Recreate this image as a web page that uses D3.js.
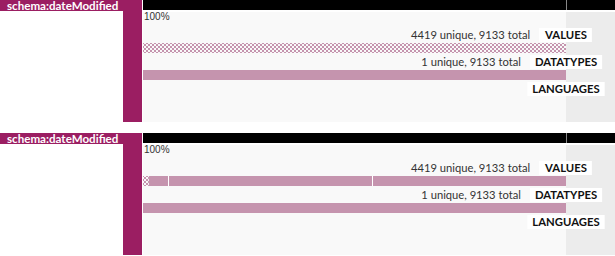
<!DOCTYPE html>
<html><head><meta charset="utf-8">
<script src="https://cdn.jsdelivr.net/npm/d3@7"></script>
<style>
html,body{margin:0;padding:0;background:#fff;}
svg{display:block;}
</style></head>
<body>
<svg id="chart" width="615" height="256"></svg>
<script>
// ---- data ----
const properties = ["schema:dateModified", "schema:dateModified"];
const totalCounts = [9133, 9133];
const uniqueValueCounts = [4419, 4419];
const uniqueDatatypeCounts = [1, 1];
const valueTailCounts = [9133, 128];           // many tiny values (checkered)
const valueTopCounts = [[], [432, 4405, 4168]]; // larger value groups
const datatypeCounts = [[9133], [9133]];
const rowLabels = ["VALUES", "DATATYPES", "LANGUAGES"];
const tickLabels = ["100%"];

// ---- layout ----
const W = 615, panelH = 122, panelGap = 133;
const plotX0 = 143, plotX1 = 566;
const purple = "#9b1e62", pink = "#c594ae";

const svg = d3.select("#chart");
const defs = svg.append("defs");
const pat = defs.append("pattern").attr("id", "checker")
  .attr("patternUnits", "userSpaceOnUse").attr("width", 4).attr("height", 4);
pat.append("rect").attr("width", 4).attr("height", 4).attr("fill", "#f9f9f9");
pat.append("rect").attr("width", 2).attr("height", 2).attr("fill", pink);
pat.append("rect").attr("x", 2).attr("y", 2).attr("width", 2).attr("height", 2).attr("fill", pink);

properties.forEach((prop, i) => {
  const g = svg.append("g").attr("transform", `translate(0,${i * panelGap})`);
  const x = d3.scaleLinear().domain([0, totalCounts[i]]).range([plotX0, plotX1]);

  // backgrounds
  g.append("rect").attr("x", plotX0).attr("y", 12).attr("width", plotX1 - plotX0).attr("height", panelH - 12).attr("fill", "#f9f9f9");
  g.append("rect").attr("x", plotX1).attr("y", 12).attr("width", W - plotX1).attr("height", panelH - 12).attr("fill", "#ececec");
  // black axis band
  g.append("rect").attr("x", plotX0).attr("y", 0).attr("width", W - plotX0).attr("height", 10).attr("fill", "#000");
  const axis = d3.axisTop(x).tickValues([totalCounts[i]]).tickSize(10).tickFormat(() => "");
  const ag = g.append("g").attr("transform", "translate(0,10)").call(axis);
  ag.select(".domain").remove();
  ag.selectAll(".tick line").attr("stroke", "#888");
  g.append("text").attr("x", plotX0 + 1).attr("y", 20)
    .attr("font-family", "Liberation Sans, Arial, sans-serif").attr("font-size", 10).attr("fill", "#333")
    .text(tickLabels[0]);

  // purple header + strip
  g.append("rect").attr("x", 0).attr("y", 0).attr("width", 142).attr("height", 11).attr("fill", purple);
  g.append("rect").attr("x", 123).attr("y", 0).attr("width", 19).attr("height", panelH).attr("fill", purple);
  g.append("text").attr("x", 7).attr("y", 9.5)
    .attr("font-family", "Lato, sans-serif").attr("font-weight", "bold").attr("font-size", 11.6).attr("fill", "#fff")
    .text(prop);

  // row labels
  const rowY = [28, 55, 82];
  const statTexts = [
    `${uniqueValueCounts[i]} unique, ${totalCounts[i]} total`,
    `${uniqueDatatypeCounts[i]} unique, ${totalCounts[i]} total`,
    null
  ];
  rowLabels.forEach((lab, r) => {
    const t = g.append("text").attr("x", plotX1).attr("y", rowY[r] + 11)
      .attr("text-anchor", "middle")
      .attr("font-family", "Lato, sans-serif").attr("font-weight", "bold").attr("font-size", 11.3).attr("fill", "#111")
      .text(lab);
    const bb = t.node().getBBox();
    g.insert("rect", () => t.node()).attr("x", bb.x - 5).attr("y", rowY[r]).attr("width", bb.width + 10).attr("height", 14).attr("fill", "#fff");
    if (statTexts[r]) {
      g.append("text").attr("x", bb.x - 5 - 9).attr("y", rowY[r] + 10.5)
        .attr("text-anchor", "end")
        .attr("font-family", "Lato, sans-serif").attr("font-size", 11.2).attr("fill", "#333")
        .text(statTexts[r]);
    }
  });

  // values bar
  const vy = 43, bh = 10;
  g.append("rect").attr("x", x(0)).attr("y", vy).attr("width", x(valueTailCounts[i]) - x(0)).attr("height", bh).attr("fill", "url(#checker)");
  let acc = valueTailCounts[i];
  const segs = valueTopCounts[i].map(c => { const s = {a: acc, b: acc + c}; acc += c; return s; });
  g.selectAll(".vseg").data(segs).enter().append("rect").attr("class", "vseg")
    .attr("x", d => x(d.a)).attr("y", vy).attr("width", d => x(d.b) - x(d.a)).attr("height", bh).attr("fill", pink);
  g.selectAll(".vsep").data(segs.slice(1)).enter().append("rect").attr("class", "vsep")
    .attr("x", d => Math.round(x(d.a)) - 1).attr("y", vy).attr("width", 1).attr("height", bh).attr("fill", "#fff");

  // datatypes bar
  const dy = 70;
  let acc2 = 0;
  const dsegs = datatypeCounts[i].map(c => { const s = {a: acc2, b: acc2 + c}; acc2 += c; return s; });
  g.selectAll(".dseg").data(dsegs).enter().append("rect").attr("class", "dseg")
    .attr("x", d => x(d.a)).attr("y", dy).attr("width", d => x(d.b) - x(d.a)).attr("height", bh).attr("fill", pink);
});
</script>
</body></html>
